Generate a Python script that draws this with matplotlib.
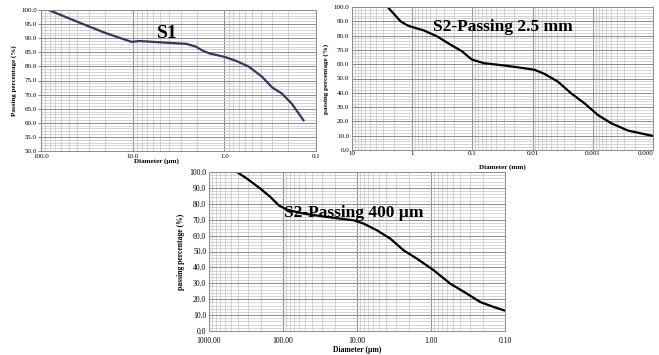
import numpy as np
import matplotlib
matplotlib.use("Agg")
import matplotlib.pyplot as plt
from matplotlib.ticker import LogLocator, MultipleLocator, FixedLocator, FixedFormatter, NullFormatter

plt.rcParams['font.family'] = ['Liberation Serif', 'DejaVu Serif']

# S1 (diameter in um)
s1_d = [82.6, 40, 20, 10.3, 8.4, 4.3, 2.6, 2.04, 1.73, 1.45, 1.0, 0.75, 0.54, 0.387, 0.30, 0.236, 0.184, 0.137]
s1_p = [100.0, 95.8, 91.9, 88.7, 89.0, 88.4, 88.0, 87.0, 85.6, 84.6, 83.4, 82.0, 79.9, 76.3, 72.5, 70.4, 66.8, 60.9]

# S2 passing 2.5 mm (diameter in mm)
s2a_d = [2.55, 1.95, 1.56, 1.25, 1.07, 0.64, 0.383, 0.23, 0.147, 0.115, 0.1, 0.064, 0.0297, 0.0138, 0.0093,
         0.0064, 0.00383, 0.0023, 0.00138, 0.000826, 0.000494, 0.000261, 0.0001]
s2a_p = [100.0, 94.5, 90.0, 87.5, 86.4, 83.6, 79.4, 73.6, 68.9, 65.0, 63.1, 60.7, 59.1, 57.2, 56.1,
         53.3, 47.9, 39.7, 32.7, 24.5, 18.7, 13.6, 9.8]

# S2 passing 400 um (diameter in um)
s2b_d = [419, 306, 202, 148, 114, 88, 52.6, 25.4, 11.1, 8.1, 5.37, 3.55, 2.34, 1.55,
         0.92, 0.55, 0.327, 0.216, 0.142, 0.1]
s2b_p = [100.0, 95.8, 89.5, 84.3, 79.0, 76.3, 73.8, 71.7, 69.6, 67.5, 63.3, 58.1, 50.7, 45.5,
         38.2, 29.8, 23.5, 18.2, 15.1, 12.8]

W, H = 659, 355


def make_ax(fig, x0, y0, x1, y1):
    return fig.add_axes([x0 / W, 1 - y1 / H, (x1 - x0) / W, (y1 - y0) / H])


def style(ax, xlim, ylim, ystep, yminor, xticks, xlabels, fs, xpad):
    ax.set_xscale('log')
    ax.set_xlim(*xlim)
    ax.set_ylim(*ylim)
    ax.xaxis.set_major_locator(FixedLocator(xticks))
    ax.xaxis.set_major_formatter(FixedFormatter(xlabels))
    ax.xaxis.set_minor_locator(LogLocator(base=10, subs=np.arange(2, 10), numticks=20))
    ax.xaxis.set_minor_formatter(NullFormatter())
    ax.yaxis.set_major_locator(MultipleLocator(ystep))
    ax.yaxis.set_minor_locator(MultipleLocator(yminor))
    ax.yaxis.set_major_formatter(plt.FuncFormatter(lambda v, p: "%.1f" % v))
    ax.grid(True, which='major', color='#8c8c8c', lw=0.7)
    ax.grid(True, which='minor', color='#c4c4c4', lw=0.5)
    ax.set_axisbelow(True)
    ax.tick_params(which='both', length=0, labelsize=fs, pad=2)
    ax.tick_params(axis='x', pad=xpad)
    for s in ax.spines.values():
        s.set_color('#8c8c8c')
        s.set_linewidth(0.7)


fig = plt.figure(figsize=(W / 100, H / 100), dpi=100)

# panel 1
ax1 = make_ax(fig, 41, 10, 316, 151)
style(ax1, (100, 0.1), (50, 100), 5, 1, [100, 10, 1, 0.1], ['100.0', '10.0', '1.0', '0.1'], 5, 2)
ax1.tick_params(axis='y', which='major', length=2, color='#8c8c8c', pad=1)
ax1.plot(s1_d, s1_p, color='#2e3a5e', lw=1.6)
ax1.set_ylabel('Passing percentage (%)', fontsize=5, fontweight='bold', labelpad=3)
ax1.set_xlabel('Diameter (µm)', fontsize=5, fontweight='bold')
ax1.xaxis.set_label_coords(0.42, -0.05)
ax1.text(0.46, 0.83, 'S1', transform=ax1.transAxes, fontsize=14, fontweight='bold', ha='center', va='center')

# panel 2
ax2 = make_ax(fig, 352, 7, 653, 150)
style(ax2, (10, 0.0001), (0, 100), 10, 2, [10, 1, 0.1, 0.01, 0.001, 0.0001],
      ['10', '1', '0.1', '0.01', '0.001', '0.000'], 5, 1)
ax2.get_xticklabels()[-1].set_horizontalalignment('right')
ax2.plot(s2a_d, s2a_p, color='black', lw=1.6)
ax2.set_ylabel('passing percentage (%)', fontsize=5, fontweight='bold', labelpad=3)
ax2.set_xlabel('Diameter (mm)', fontsize=5, fontweight='bold')
ax2.xaxis.set_label_coords(0.5, -0.1)
ax2.text(0.5, 0.86, 'S2-Passing 2.5 mm', transform=ax2.transAxes, fontsize=12.5, fontweight='bold',
         ha='center', va='center')

# panel 3
ax3 = make_ax(fig, 209, 172, 505, 331)
style(ax3, (1000, 0.1), (0, 100), 10, 2, [1000, 100, 10, 1, 0.1],
      ['1000.00', '100.00', '10.00', '1.00', '0.10'], 5.5, 4)
ax3.plot(s2b_d, s2b_p, color='black', lw=1.6)
ax3.set_ylabel('passing percentage (%)', fontsize=5.5, fontweight='bold', labelpad=3)
ax3.set_xlabel('Diameter (µm)', fontsize=5.5, fontweight='bold', labelpad=1)
ax3.text(0.49, 0.74, 'S2-Passing 400 µm', transform=ax3.transAxes, fontsize=12.5, fontweight='bold',
         ha='center', va='center')

fig.savefig('out.png', dpi=100)
